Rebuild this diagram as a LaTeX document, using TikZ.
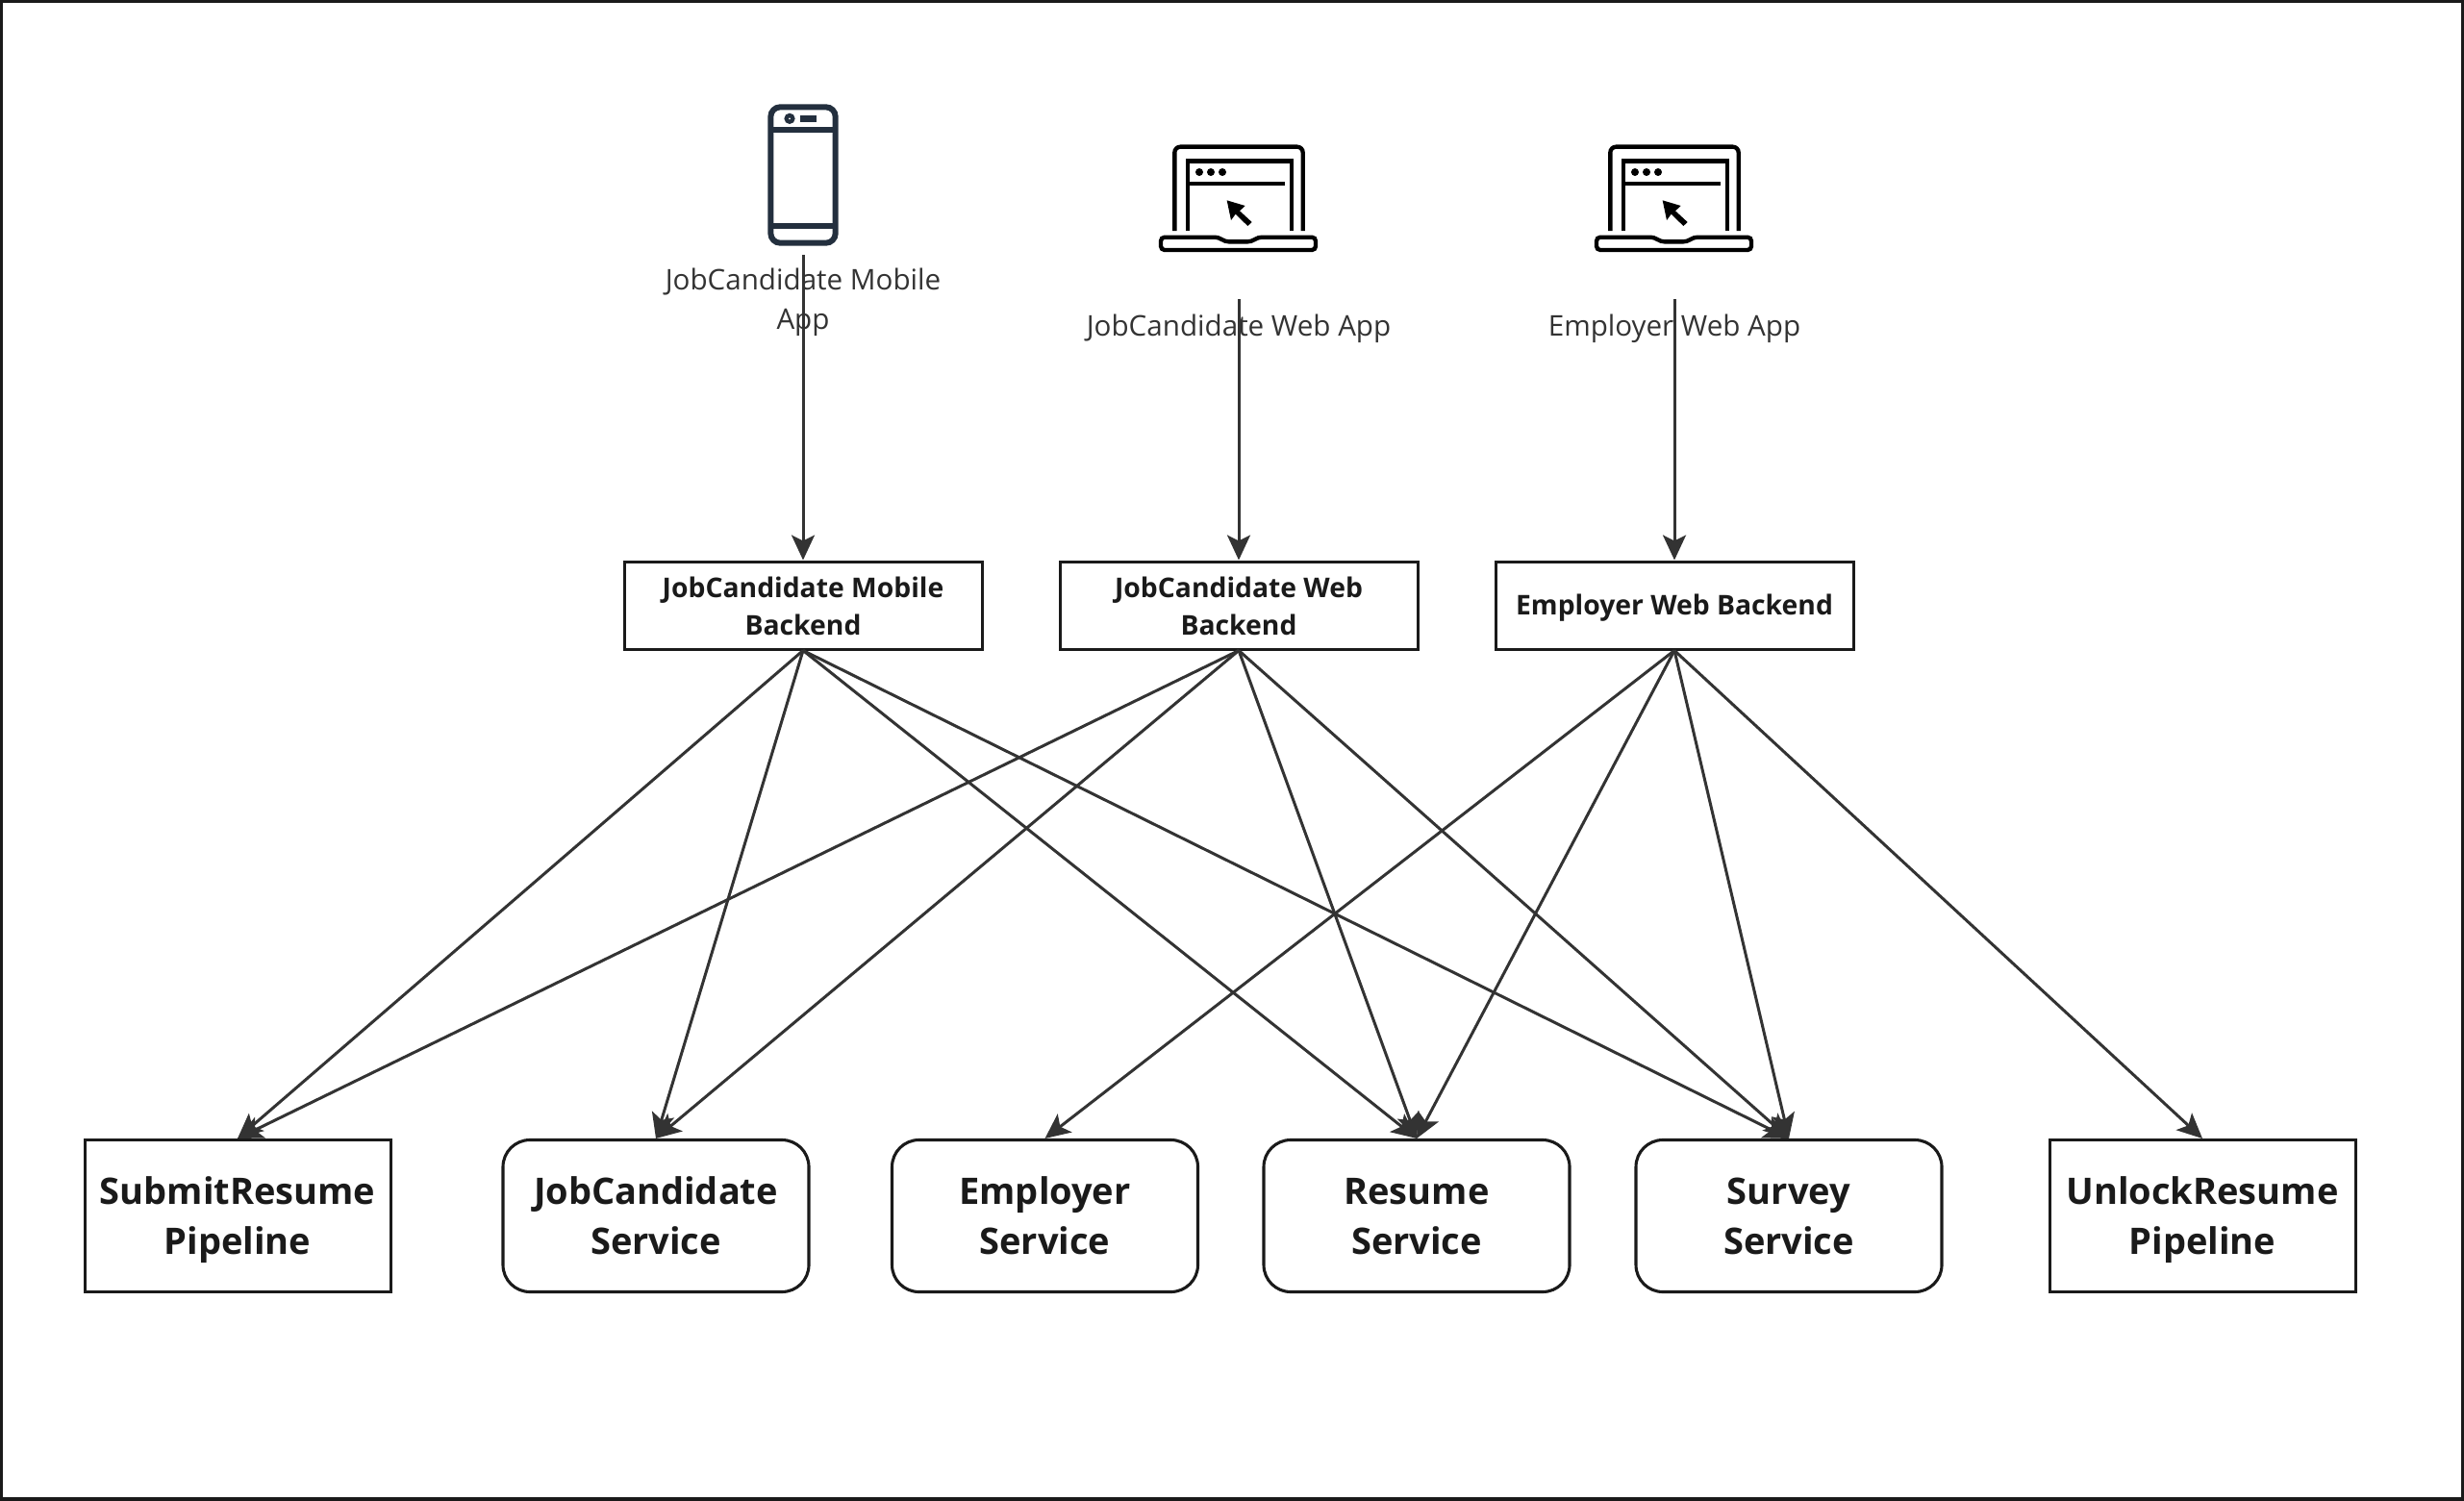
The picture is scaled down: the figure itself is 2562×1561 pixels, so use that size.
\documentclass[tikz,border=0pt]{standalone}
\usepackage{fontspec}
\setmainfont{Open Sans}
\usetikzlibrary{arrows.meta}
\definecolor{ink}{HTML}{1A1A1A}
\definecolor{wire}{HTML}{333333}
\definecolor{navy}{HTML}{232F3E}
\newcommand{\vs}[1][.235]{\rule[-#1\baselineskip]{0pt}{\baselineskip}}
\tikzset{
  big/.style={draw=ink,line width=1.55pt,text=ink,minimum width=159pt,minimum height=79pt,inner sep=0pt,align=center,font=\fontsize{19}{26.2}\selectfont\bfseries},
  pipe/.style={big,line width=1.5pt},
  svc/.style={big,rounded corners=14pt},
  back/.style={draw=ink,line width=1.5pt,text=ink,minimum width=186pt,minimum height=45.5pt,inner sep=0pt,align=center,font=\fontsize{14.15}{19.5}\selectfont\bfseries},
  lab/.style={text=wire,align=center,inner sep=0pt,font=\fontsize{14.8}{20.5}\selectfont},
  wireline/.style={draw=wire,line width=1.5pt,-{Stealth[length=13pt,width=12pt,inset=3pt]}},
  laptop/.pic={
    \begin{scope}[x=0.1667pt,y=-0.1667pt,line width=2.17pt,draw=black]
      \draw[rounded corners=3pt] (-200,330) -- (-200,68) -- (200,68) -- (200,330);
      \draw (-160,330) -- (-160,112) -- (164,112) -- (164,330);
      \draw (-160,182) -- (143,182);
      \fill (-123,147) circle (12) (-87,147) circle (12) (-51,147) circle (12);
      \fill (-37,235) -- (20,252) -- (3,268) -- (41,303) -- (28,315) -- (-10,278) -- (-24,297) -- cycle;
      \draw[rounded corners=2pt] (-243,350) -- (-63,350) -- (-43,364) -- (40,364) -- (60,350) -- (240,350) -- (240,390) -- (-243,390) -- cycle;
    \end{scope}
  }
}
\begin{document}
\begin{tikzpicture}[x=0.5pt,y=-0.5pt]
\useasboundingbox (0,0) rectangle (2562,1561);
\draw[ink,line width=1.7pt] (1,1) rectangle (2560.5,1559);
% phone icon
\begin{scope}[shift={(760,90)},x=0.1667pt,y=-0.1667pt]
  \draw[navy,line width=3pt,rounded corners=5pt] (124,64) rectangle (326,488);
  \draw[navy,line width=3pt] (124,135) -- (326,135) (124,435) -- (326,435);
  \fill[navy] (183,100) circle (17);
  \fill[white] (183,100) circle (3);
  \fill[navy] (216,90) rectangle (266,110);
\end{scope}
\pic at (1288,130) {laptop};
\pic at (1741,130) {laptop};
% labels
\node[lab] (lm) at (835,314) {\strut JobCandidate Mobile\\\strut App};
\node[lab] (lw) at (1288,341) {\strut JobCandidate Web App};
\node[lab] (le) at (1741,341) {\strut Employer Web App};
\coordinate (sm) at (835,265);
\coordinate (sw) at (1288,311);
\coordinate (se) at (1741,311);
% backends
\node[back] (bm) at (835,629.5) {\vs[.21]JobCandidate Mobile\\\vs[.21]Backend};
\node[back] (bw) at (1288,629.5) {\vs[.21]JobCandidate Web\\\vs[.21]Backend};
\node[back] (be) at (1741,629.5) {\vs[.25]Employer Web Backend};
% services
\node[pipe] (submit) at (247,1264.5) {\vs SubmitResume\\\vs Pipeline};
\node[svc] (cand) at (682,1264.5) {\vs JobCandidate\\\vs Service};
\node[svc] (empl) at (1086.5,1264.5) {\vs Employer\\\vs Service};
\node[svc] (res) at (1473,1264.5) {\vs Resume\\\vs Service};
\node[svc] (surv) at (1860,1264.5) {\vs Survey\\\vs Service};
\node[pipe] (unlock) at (2290,1264.5) {\vs UnlockResume\\\vs Pipeline};
% connectors
\draw[wireline] (sm) -- (bm.north);
\draw[wireline] (sw) -- (bw.north);
\draw[wireline] (se) -- (be.north);
\foreach \t in {submit,cand,res,surv} {
  \draw[wireline] (bm.south) -- (\t.north);
  \draw[wireline] (bw.south) -- (\t.north);
}
\foreach \t in {empl,res,surv,unlock} {
  \draw[wireline] (be.south) -- (\t.north);
}
\end{tikzpicture}
\end{document}
